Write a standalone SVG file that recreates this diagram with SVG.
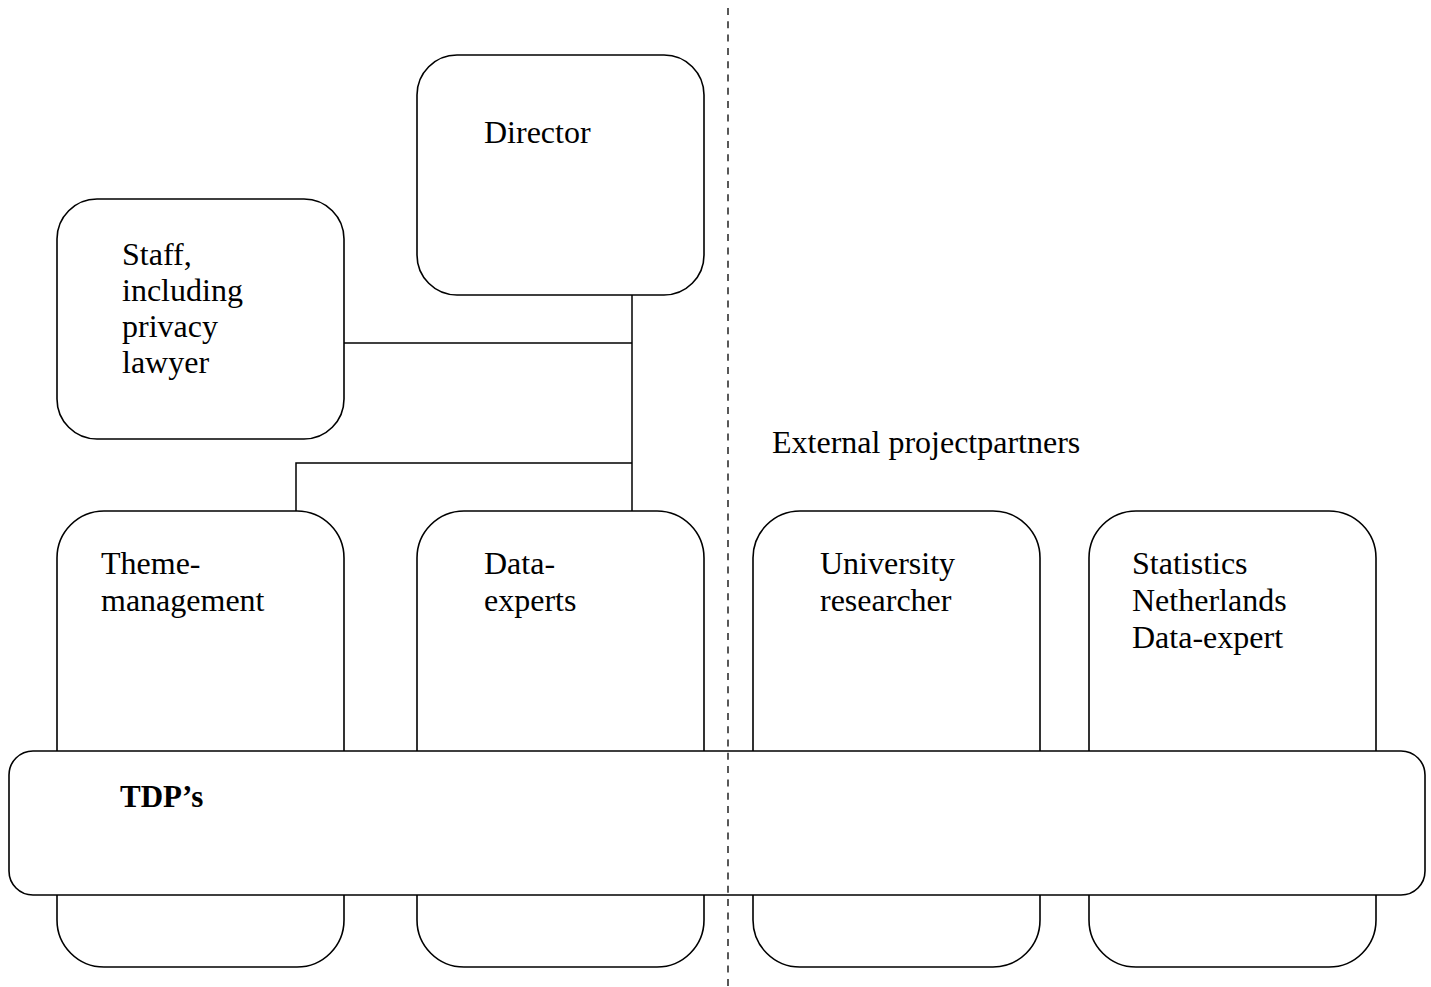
<svg xmlns="http://www.w3.org/2000/svg" width="1431" height="987" viewBox="0 0 1431 987">
<style>
.box{fill:#fff;stroke:#000;stroke-width:1.6}
.t{font-family:"Liberation Serif","Times New Roman",serif;font-size:32px;fill:#000}
.b{font-weight:bold;font-size:31px}
.c{fill:none;stroke:#000;stroke-width:1.5}
.d{fill:none;stroke:#000;stroke-width:1.3;stroke-dasharray:7 6.3}
</style>
<rect width="1431" height="987" fill="#fff"/>
<g id="connectors">
<polyline class="c" points="632,295 632,511"/>
<polyline class="c" points="344,343 632,343"/>
<polyline class="c" points="296,511 296,463 632,463"/>
</g>
<g id="director">
<rect class="box" x="417" y="55" width="287" height="240" rx="40"/>
<text class="t" x="484" y="143">Director</text>
</g>
<g id="staff">
<rect class="box" x="57" y="199" width="287" height="240" rx="40"/>
<text class="t"><tspan x="122" y="265">Staff,</tspan><tspan x="122" y="301">including</tspan><tspan x="122" y="337">privacy</tspan><tspan x="122" y="373">lawyer</tspan></text>
</g>
<g id="theme-management">
<rect class="box" x="57" y="511" width="287" height="456" rx="47"/>
<text class="t"><tspan x="101" y="574">Theme-</tspan><tspan x="101" y="611">management</tspan></text>
</g>
<g id="data-experts">
<rect class="box" x="417" y="511" width="287" height="456" rx="47"/>
<text class="t"><tspan x="484" y="574">Data-</tspan><tspan x="484" y="611">experts</tspan></text>
</g>
<g id="external-label">
<text class="t" x="772" y="453">External projectpartners</text>
</g>
<g id="university-researcher">
<rect class="box" x="753" y="511" width="287" height="456" rx="47"/>
<text class="t"><tspan x="820" y="574">University</tspan><tspan x="820" y="611">researcher</tspan></text>
</g>
<g id="statistics-netherlands">
<rect class="box" x="1089" y="511" width="287" height="456" rx="47"/>
<text class="t"><tspan x="1132" y="574">Statistics</tspan><tspan x="1132" y="611">Netherlands</tspan><tspan x="1132" y="648">Data-expert</tspan></text>
</g>
<g id="tdps">
<rect class="box" x="9" y="751" width="1416" height="144" rx="24"/>
<text class="t b" x="120" y="807">TDP’s</text>
</g>
<g id="divider">
<line class="d" x1="728" y1="8" x2="728" y2="987"/>
</g>
</svg>
